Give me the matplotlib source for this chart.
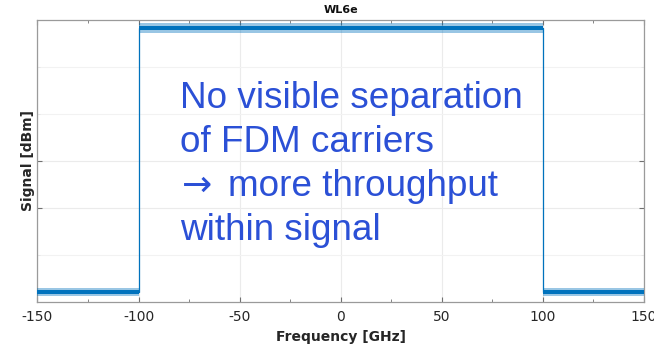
import matplotlib
matplotlib.use("Agg")
import matplotlib.pyplot as plt
from matplotlib.ticker import FixedLocator, NullFormatter

# Spectrum description (frequency in GHz, level in axis units)
band_edges = [-150, -100, 100, 150]          # segment boundaries
segment_levels = [0.22, 5.83, 0.22]          # mean level of each segment
noise_core = [0.04, 0.05, 0.04]              # half thickness of the dense noise core
noise_peak = [0.085, 0.10, 0.085]            # half thickness incl. sparse noise peaks
x_ticks = [-150, -100, -50, 0, 50, 100, 150]
x_minor = [-125, -75, -25, 25, 75, 125]
title = "WL6e"
xlabel = "Frequency [GHz]"
ylabel = "Signal [dBm]"
note_lines = ["No visible separation", "of FDM carriers",
              "more throughput", "within signal"]
arrow = "\u2192"

line_color = "#0072BD"
note_color = "#2B50D6"

fig = plt.figure(figsize=(6.54, 3.44), dpi=100)
ax = fig.add_axes([0.0573, 0.1221, 0.9274, 0.8198])

# outline of the spectrum (steps at the carrier edges)
xs, ys = [], []
for i, lvl in enumerate(segment_levels):
    xs += [band_edges[i], band_edges[i + 1]]
    ys += [lvl, lvl]
ax.plot(xs, ys, color=line_color, lw=0.9, zorder=3)

# noise band around each segment level
for i, lvl in enumerate(segment_levels):
    seg = [band_edges[i], band_edges[i + 1]]
    ax.fill_between(seg, lvl - noise_peak[i], lvl + noise_peak[i],
                    color=line_color, alpha=0.4, lw=0, zorder=3)
    ax.fill_between(seg, lvl - noise_core[i], lvl + noise_core[i],
                    color=line_color, lw=0, zorder=3)

ax.set_xlim(-150, 150)
ax.set_ylim(0, 6)

ax.xaxis.set_major_locator(FixedLocator(x_ticks))
ax.xaxis.set_minor_locator(FixedLocator(x_minor))
ax.yaxis.set_major_locator(FixedLocator([2, 3]))
ax.yaxis.set_minor_locator(FixedLocator([1, 4, 5]))
ax.yaxis.set_major_formatter(NullFormatter())
ax.set_xticklabels([str(v) for v in x_ticks])

ax.tick_params(which="both", direction="in", top=True, right=True,
               colors="#707070", labelcolor="#262626", labelsize=10)
ax.tick_params(which="major", length=3.5, width=0.8)
ax.tick_params(which="minor", length=2.5, width=0.6)
ax.tick_params(axis="x", which="major", pad=6)
ax.tick_params(axis="y", which="minor", colors="#e6e6e6")

ax.grid(True, which="major", color="#ebebeb", lw=0.8, zorder=0)
ax.grid(True, axis="y", which="minor", color="#f2f2f2", lw=0.8, zorder=0)
ax.set_axisbelow(True)

for s in ax.spines.values():
    s.set_color("#9a9a9a")
    s.set_linewidth(0.9)

ax.set_title(title, fontsize=8, fontweight="bold", pad=5, color="#111111")
ax.set_xlabel(xlabel, fontsize=10, fontweight="bold", color="#262626", labelpad=4)
ax.set_ylabel(ylabel, fontsize=10, fontweight="bold", color="#262626", labelpad=-1.5)

# annotation block, one line at a time (baseline spacing in points)
x0, y0 = -79.5, 4.13
step_pt = 31.8
for k, line in enumerate(note_lines):
    dx = 0
    if k == 2:
        ax.annotate(arrow, (x0, y0), xytext=(1.5, -k * step_pt), textcoords="offset points",
                    family="DejaVu Sans", fontsize=26, color=note_color,
                    ha="left", va="baseline", zorder=5)
        dx = 34.5
    ax.annotate(line, (x0, y0), xytext=(dx, -k * step_pt), textcoords="offset points",
                family="Liberation Sans", fontsize=26.6, color=note_color,
                ha="left", va="baseline", zorder=5)

fig.savefig("out.png", dpi=100)
